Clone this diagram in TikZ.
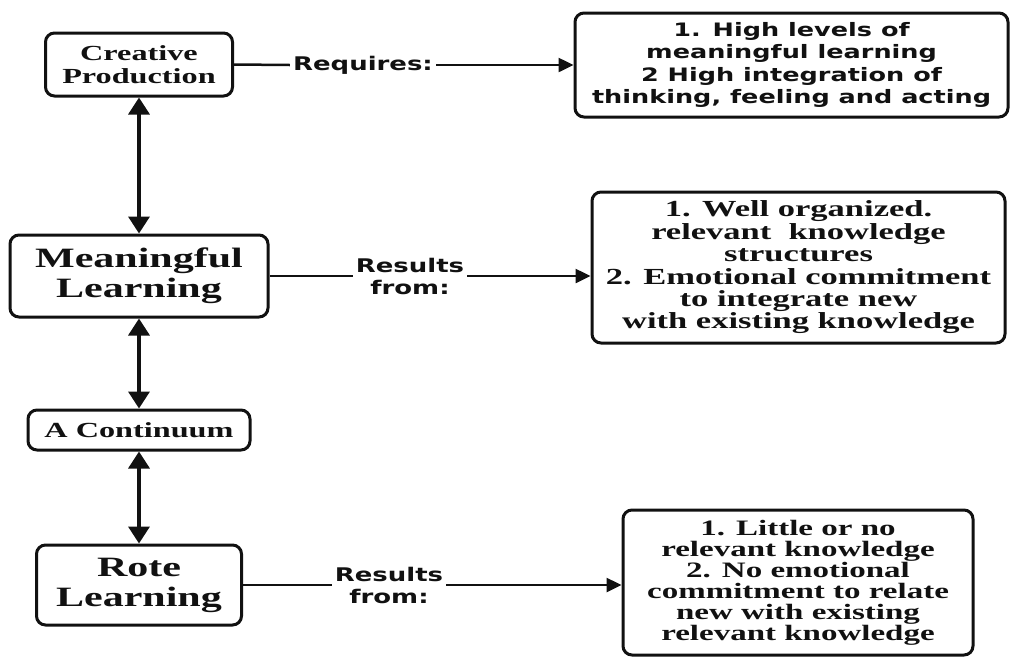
\documentclass[tikz,border=0pt]{standalone}
\usepackage{fontspec}
\usepackage{tikz}
\usetikzlibrary{arrows.meta}
\newfontfamily\boxserif[FakeStretch=1.5]{Liberation Serif}
\newfontfamily\labsans[FakeStretch=1.38]{DejaVu Sans}
\definecolor{inkBlack}{HTML}{111111}

\begin{document}
\begin{tikzpicture}[x=1pt,y=-1pt,
  box/.style={draw=inkBlack,line width=3pt,rounded corners=9pt,fill=white,
              align=center,inner sep=0pt,text=inkBlack},
  sbox/.style={box,font=\boxserif\bfseries\fontsize{21.5}{22.5}\selectfont},
  bbox/.style={box,font=\boxserif\bfseries\fontsize{28}{30}\selectfont},
  lab/.style={font=\labsans\bfseries\fontsize{18.8}{22}\selectfont,align=center,
              inner sep=3pt,text=inkBlack},
  ln/.style={line width=2.5pt,inkBlack},
  a/.style={-{Triangle[length=15pt,width=14pt]},line width=2.5pt,inkBlack},
  aa/.style={{Triangle[length=17pt,width=21pt]}-{Triangle[length=17pt,width=21pt]},
             line width=3.5pt,inkBlack}]
  \useasboundingbox[fill=white] (0,0) rectangle (1011,657);
  % left column
  \node[sbox,minimum width=187pt,minimum height=63pt] (cp)   at (139,64.5) {Creative\\Production};
  \node[bbox,minimum width=258pt,minimum height=82pt] (ml)   at (139,276)  {Meaningful\\Learning};
  \node[sbox,minimum width=222pt,minimum height=40pt] (cont) at (139,430)  {A Continuum};
  \node[bbox,minimum width=205pt,minimum height=80pt] (rote) at (139,585)  {Rote\\Learning};
  \draw[aa] (cp.south)   -- (ml.north);
  \draw[aa] (ml.south)   -- (cont.north);
  \draw[aa] (cont.south) -- (rote.north);
  % right column
  \node[box,minimum width=433pt,minimum height=104pt,
        font=\labsans\bfseries\fontsize{18.5}{22.3}\selectfont] (reqbox) at (791.5,65)
    {1. High levels of\\meaningful learning\\2 High integration of\\thinking, feeling and acting};
  \node[box,minimum width=413pt,minimum height=151pt,
        font=\boxserif\bfseries\fontsize{23}{22.4}\selectfont] (mlbox) at (798.5,267.5)
    {1. Well organized.\\relevant\ \ knowledge\\structures\\2. Emotional commitment\\to integrate new\\with existing knowledge};
  \node[box,minimum width=350pt,minimum height=145pt,
        font=\boxserif\bfseries\fontsize{22}{21}\selectfont] (rtbox) at (798,582.5)
    {1. Little or no\\relevant knowledge\\2. No emotional\\commitment to relate\\new with existing\\relevant knowledge};
  % links
  \node[lab] (req) at (363,65)  {Requires:};
  \node[lab] (mlr) at (410,276) {Results\\from:};
  \node[lab] (rtr) at (389,585) {Results\\from:};
  \draw[ln] (cp.east) -- (req.west);
  \draw[a] (req.east) -- (reqbox.west |- req.east);
  \draw[ln] (ml.east) -- (mlr.west);
  \draw[a] (mlr.east) -- (mlbox.west |- mlr.east);
  \draw[ln] (rote.east) -- (rtr.west);
  \draw[a] (rtr.east) -- (rtbox.west |- rtr.east);
\end{tikzpicture}
\end{document}
